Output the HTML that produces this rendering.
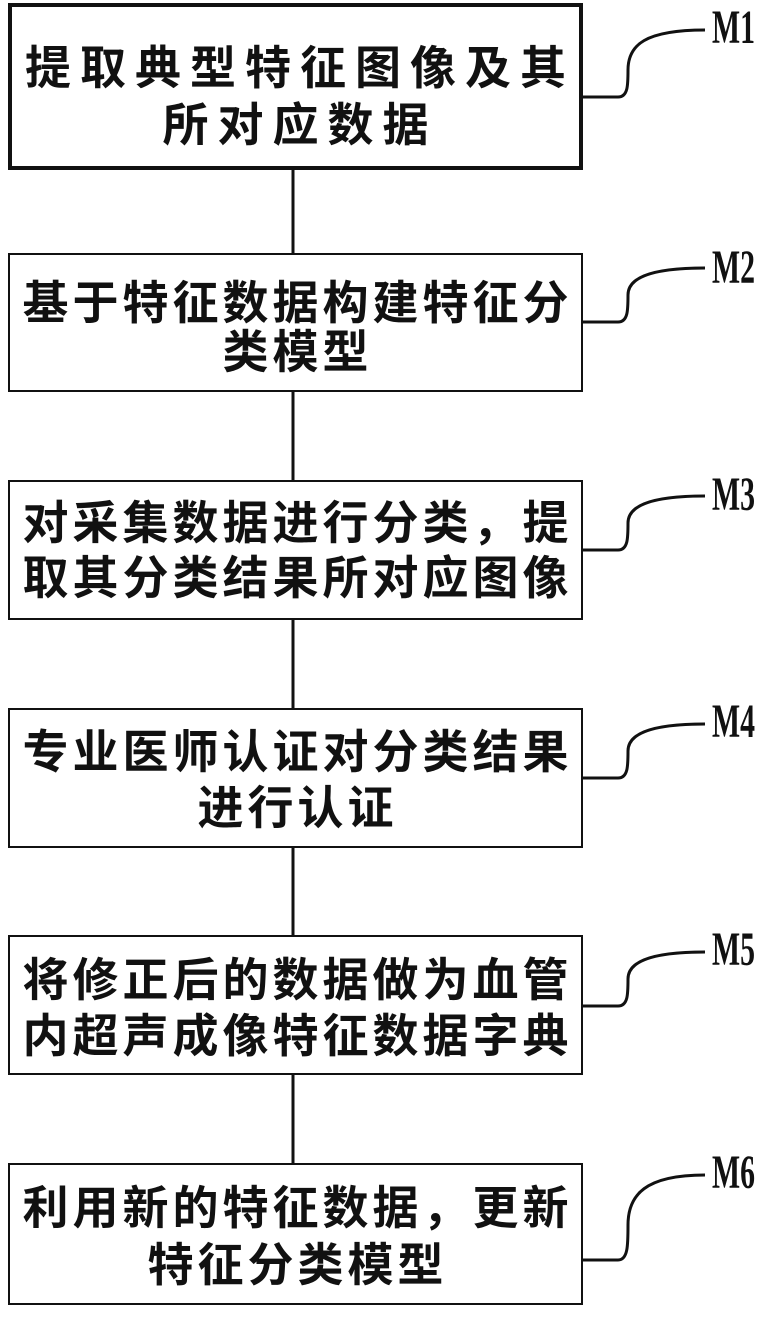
<!DOCTYPE html>
<html><head><meta charset="utf-8"><style>
html,body{margin:0;padding:0;background:#fff;}
body{width:774px;height:1320px;position:relative;overflow:hidden;}
.box{position:absolute;left:8px;width:575px;box-sizing:border-box;border:2px solid #111;background:#fff;}
.t{position:absolute;left:8px;width:575px;text-align:center;font-family:"Liberation Sans","Noto Sans CJK SC",sans-serif;font-size:46px;font-weight:bold;letter-spacing:4px;text-indent:4px;color:#111;line-height:50px;white-space:nowrap;}
.w{letter-spacing:9px;text-indent:9px;}
.lab{position:absolute;font-family:"Liberation Serif",serif;font-weight:bold;font-size:48px;color:#111;transform:scaleX(0.62);transform-origin:left center;line-height:48px;}
</style></head><body>
<svg width="774" height="1320" style="position:absolute;left:0;top:0">
<g stroke="#111" stroke-width="3" fill="none">
<line x1="293" y1="170" x2="293" y2="253"/>
<line x1="293" y1="392" x2="293" y2="480"/>
<line x1="293" y1="620" x2="293" y2="708"/>
<line x1="293" y1="848" x2="293" y2="935"/>
<line x1="293" y1="1075" x2="293" y2="1163"/>
<path d="M583 97 L618 97 C628 97 628 85 628 70 C628 45 645 30 705 30"/>
<path d="M583 322 L618 322 C628 322 628 310 628 295 C628 280 645 268 705 268"/>
<path d="M583 550 L618 550 C628 550 628 538 628 523 C628 508 645 496 705 496"/>
<path d="M583 778 L618 778 C628 778 628 766 628 751 C628 736 645 724 705 724"/>
<path d="M583 1006 L618 1006 C628 1006 628 994 628 979 C628 964 645 952 705 952"/>
<path d="M583 1260 L618 1260 C628 1260 628 1245 628 1225 C628 1195 645 1175 705 1175"/>
</g></svg>
<div class="box" style="top:3px;height:167px;border-width:4px"></div>
<div class="t w" style="top:43px">提取典型特征图像及其</div>
<div class="t w" style="top:100px">所对应数据</div>
<div class="box" style="top:253px;height:139px"></div>
<div class="t" style="top:278px">基于特征数据构建特征分</div>
<div class="t" style="top:327px">类模型</div>
<div class="box" style="top:480px;height:140px"></div>
<div class="t" style="top:498px">对采集数据进行分类，提</div>
<div class="t" style="top:553px">取其分类结果所对应图像</div>
<div class="box" style="top:708px;height:140px"></div>
<div class="t" style="top:727px">专业医师认证对分类结果</div>
<div class="t" style="top:783px">进行认证</div>
<div class="box" style="top:935px;height:140px"></div>
<div class="t" style="top:955px">将修正后的数据做为血管</div>
<div class="t" style="top:1011px">内超声成像特征数据字典</div>
<div class="box" style="top:1163px;height:142px"></div>
<div class="t" style="top:1183px">利用新的特征数据，更新</div>
<div class="t" style="top:1240px">特征分类模型</div>
<div class="lab" style="left:712px;top:4px">M1</div>
<div class="lab" style="left:712px;top:244px">M2</div>
<div class="lab" style="left:712px;top:471px">M3</div>
<div class="lab" style="left:712px;top:698px">M4</div>
<div class="lab" style="left:712px;top:926px">M5</div>
<div class="lab" style="left:712px;top:1149px">M6</div>
</body></html>
